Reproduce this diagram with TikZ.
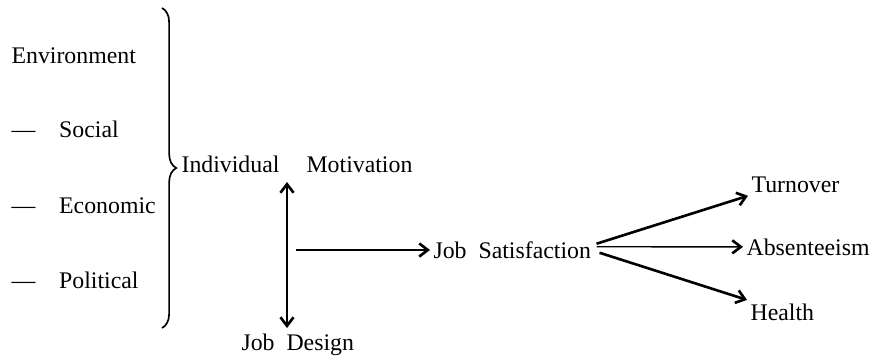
\documentclass[tikz,border=0pt]{standalone}
\usepackage{fontspec}
\setmainfont{Liberation Serif}
\usetikzlibrary{arrows.meta,decorations.pathreplacing,calc}

\begin{document}
\begin{tikzpicture}[x=0.42pt,y=-0.42pt,
    lbl/.style={anchor=base west,inner sep=0pt,outer sep=1.5pt,font=\fontsize{10}{12}\selectfont},
    arr/.style={line width=1.1pt,-{Straight Barb[length=3.6pt,width=5.5pt,line width=1.1pt]}},
    thinarr/.style={line width=0.6pt,-{Straight Barb[length=3.6pt,width=5.5pt,line width=1.1pt]}},
    dblarr/.style={line width=1.1pt,{Straight Barb[length=3.6pt,width=5.5pt,line width=1.1pt]}-{Straight Barb[length=3.6pt,width=5.5pt,line width=1.1pt]}}]
              \useasboundingbox (0,0) rectangle (874,358);
              % environment column
              \node[lbl] (env) at (8,63) {Environment};
              \node[lbl] (soc) at (8,137) {---\quad Social};
              \node[lbl] (eco) at (8,213) {---\quad Economic};
              \node[lbl] (pol) at (8,288) {---\quad Political};
              \coordinate (btop) at (162,8);
              \coordinate (bbot) at (162,328);
              \draw[line width=0.7pt,decorate,decoration={brace,amplitude=6pt}] (btop) -- (bbot);
              % middle
              \node[lbl] (indiv) at (178,172) {Individual};
              \node[lbl] (motiv) at (303,172) {Motivation};
              \node[lbl] (design) at (238,350) {Job\hspace{0.5em}Design};
              \node[lbl] (sat) at (430,258) {Job\hspace{0.5em}Satisfaction};
              \coordinate (mtop) at (287,182);
              \coordinate (mbot) at (287,328);
              \coordinate (hstart) at (296,250);
              \draw[dblarr] (mbot) -- (mtop);
              \draw[arr] (hstart) -- (hstart -| sat.west);
              % outcomes
              \node[lbl] (turn) at (748,192) {Turnover};
              \node[lbl] (abs) at (743,255) {Absenteeism};
              \node[lbl] (health) at (747,320) {Health};
              \draw[arr] ($(sat.east)+(2,-6)$) -- (turn.south west);
              \draw[thinarr] ($(sat.east)+(2,-3)$) -- (abs.west);
              \draw[arr] ($(sat.east)+(5,3)$) -- (health.north west);
            \end{tikzpicture}
\end{document}
